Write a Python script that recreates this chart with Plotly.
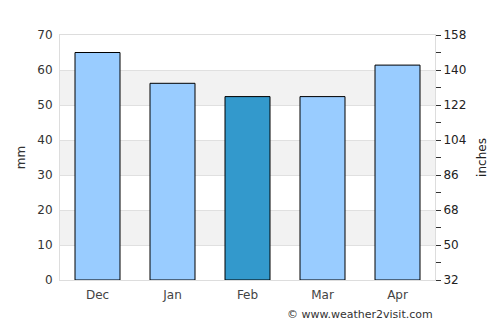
import plotly.graph_objects as go

months = ["Dec", "Jan", "Feb", "Mar", "Apr"]
rain_mm = [65, 56.2, 52.4, 52.4, 61.4]
bar_colors = ["#99ccff", "#99ccff", "#3399cc", "#99ccff", "#99ccff"]
left_ticks = [0, 10, 20, 30, 40, 50, 60, 70]
right_ticks = [32, 50, 68, 86, 104, 122, 140, 158]

FONT = "DejaVu Sans"

fig = go.Figure()
fig.add_trace(go.Bar(
    x=months, y=rain_mm, width=0.6,
    marker=dict(color=bar_colors, line=dict(color="#000000", width=1)),
    hoverinfo="skip", showlegend=False,
))
fig.add_trace(go.Scatter(
    x=[months[0], months[-1]], y=[right_ticks[0], right_ticks[-1]],
    yaxis="y2", mode="markers", marker=dict(opacity=0),
    hoverinfo="skip", showlegend=False,
))

# alternating bands
shapes = []
for i in range(len(left_ticks) - 1):
    if i % 2 == 1:
        shapes.append(dict(type="rect", xref="paper", yref="y",
                           x0=0, x1=1, y0=left_ticks[i], y1=left_ticks[i + 1],
                           fillcolor="#f2f2f2", line=dict(width=0), layer="below"))

fig.update_layout(
    width=500, height=325,
    margin=dict(l=60, r=65, t=35, b=45),
    paper_bgcolor="white", plot_bgcolor="white",
    font=dict(family=FONT, size=12, color="#444444"),
    bargap=0.4,
    shapes=shapes,
    xaxis=dict(
        showgrid=False, showline=True, linecolor="#dddddd", linewidth=1,
        mirror=True, ticks="", tickfont=dict(size=12, color="#444444"),
        range=[-0.5, 4.5], ticklabelstandoff=4,
    ),
    yaxis=dict(
        range=[0, 70], tickvals=left_ticks, showgrid=True, gridcolor="#e0e0e0",
        gridwidth=1, showline=True, linecolor="#dddddd", zeroline=False,
        ticks="", tickfont=dict(size=12, color="#333333"), ticklabelstandoff=4,
        title=dict(text="mm", font=dict(size=12, color="#333333"), standoff=9),
    ),
    yaxis2=dict(
        overlaying="y", side="right", range=[32, 158], tickvals=right_ticks,
        showgrid=False, zeroline=False, showline=True, linecolor="#dddddd",
        ticks="outside", ticklen=5, tickcolor="#333333",
        minor=dict(dtick=9, tick0=32, ticks="outside", ticklen=5, tickcolor="#333333", showgrid=False),
        tickfont=dict(size=12, color="#222222"),
        title=dict(text="inches", font=dict(size=12, color="#222222"), standoff=12),
    ),
    annotations=[dict(
        text="© www.weather2visit.com", xref="paper", yref="paper",
        x=1, y=-0.105, xanchor="right", yanchor="top", showarrow=False,
        font=dict(size=11, color="#333333"),
    )],
)

fig.write_html("out.html")
